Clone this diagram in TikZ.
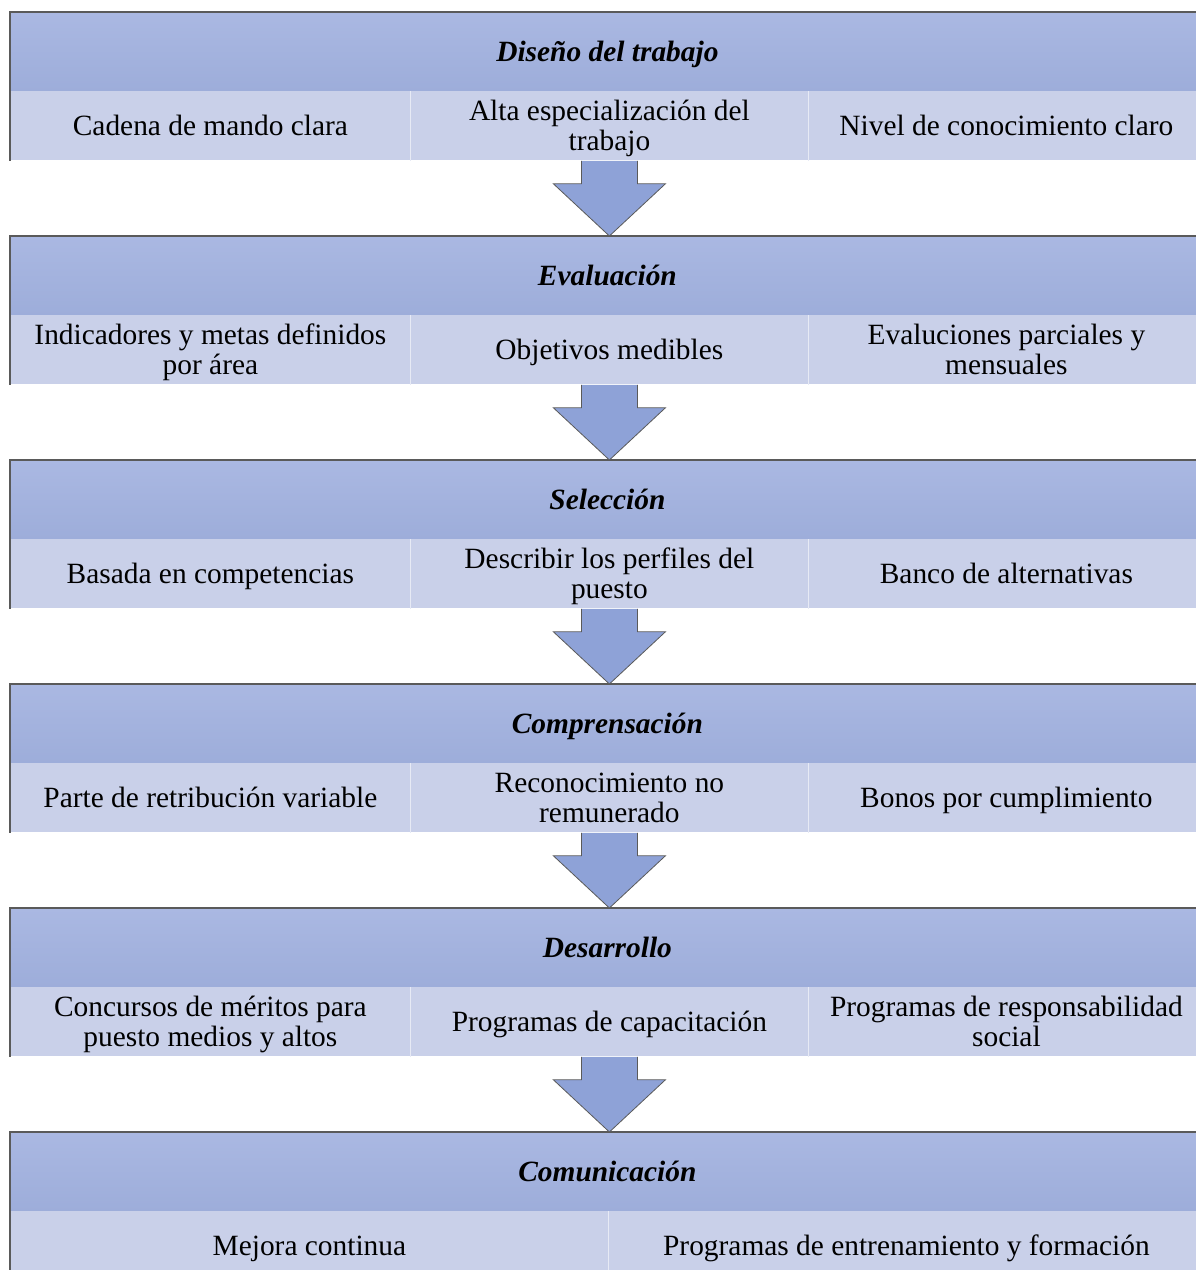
\documentclass[tikz,border=0pt]{standalone}
\usepackage{fontspec}
\setmainfont{Liberation Serif}
\usetikzlibrary{calc}
\definecolor{headtop}{HTML}{AAB8E2}
\definecolor{headbot}{HTML}{9DADDA}
\definecolor{cellblue}{HTML}{C9D0E9}
\definecolor{arrowblue}{HTML}{8EA2D7}
\definecolor{edgegrey}{HTML}{5A5A5A}
\newcommand\topstrut{\rule{0pt}{14pt}}
\newcommand\botstrut{\rule[-4pt]{0pt}{4pt}}

\tikzset{
  header/.style={anchor=north west, minimum width=597pt, minimum height=39.5pt,
    inner sep=0pt, top color=headtop, bottom color=headbot,
    font=\fontsize{14.7}{15}\selectfont\bfseries\itshape},
  cellbox/.style={anchor=north west, minimum height=34.5pt, inner sep=0pt,
    fill=cellblue, align=center, font=\fontsize{14.7}{15}\selectfont},
  blockarrow/.style={fill=arrowblue, draw=edgegrey, line width=0.4pt, line join=miter},
  frameline/.style={draw=edgegrey, line width=0.6pt}
}

\begin{document}
\begin{tikzpicture}[x=0.5pt, y=-0.5pt]
  \useasboundingbox (0,0) rectangle (1195,1270);
  \fill[white] (0,0) rectangle (1195,1270);
  \foreach \k/\stage/\ia/\ib/\ic in {%
    1/{Diseño del trabajo}/{Cadena de mando clara}/{Alta especialización del\\trabajo}/{Nivel de conocimiento claro},
    2/{Evaluación}/{Indicadores y metas definidos\\por área}/{Objetivos medibles}/{Evaluciones parciales y\\mensuales},
    3/{Selección}/{Basada en competencias}/{Describir los perfiles del\\puesto}/{Banco de alternativas},
    4/{Comprensación}/{Parte de retribución variable}/{Reconocimiento no\\remunerado}/{Bonos por cumplimiento},
    5/{Desarrollo}/{Concursos de méritos para\\puesto medios y altos}/{Programas de capacitación}/{Programas de responsabilidad\\social}%
    } {
    \pgfmathsetmacro\yp{12 + (\k - 1) * 224}
    \node[header] (h\k) at (10, \yp) {\topstrut\stage\botstrut};
    \node[cellbox, minimum width=200pt] (a\k) at (10, \yp + 79) {\topstrut\ia\botstrut};
    \node[cellbox, minimum width=199pt] (b\k) at (410, \yp + 79) {\topstrut\ib\botstrut};
    \node[cellbox, minimum width=198pt] (c\k) at (808, \yp + 79) {\topstrut\ic\botstrut};
    \draw[white!55!cellblue] (b\k.north west) -- (b\k.south west);
    \draw[white!55!cellblue] (c\k.north west) -- (c\k.south west);
    \draw[frameline] (a\k.south west) -- (h\k.north west) -- (h\k.north east);
  }
  \node[header] (h6) at (10, 1132) {\topstrut Comunicación\botstrut};
  \node[cellbox, minimum width=299pt] (a6) at (10, 1211) {\topstrut Mejora continua\botstrut};
  \node[cellbox, minimum width=298pt] (b6) at (608, 1211) {\topstrut Programas de entrenamiento y formación\botstrut};
  \draw[white!55!cellblue] (b6.north west) -- (b6.south west);
  \draw[frameline] (a6.south west) -- (h6.north west) -- (h6.north east);
  \foreach \i/\j in {1/2, 2/3, 3/4, 4/5, 5/6} {
    \draw[blockarrow] ($(b\i.south)+(-28,0)$) -- ++(0,23) -- ++(-28,0)
      -- (b\i.south |- h\j.north) -- ($(b\i.south)+(56,23)$) -- ++(-28,0)
      -- ++(0,-23);
  }
\end{tikzpicture}
\end{document}
